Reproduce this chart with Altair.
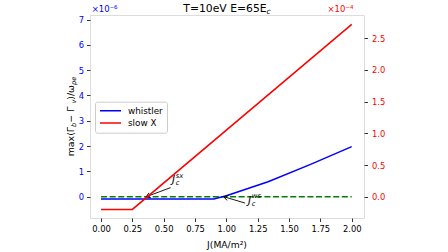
import math
import altair as alt
import pandas as pd

# ---------------- data ----------------
J_whistler = [0.0, 0.9, 1.0, 1.333, 1.667, 2.0]
gamma_whistler = [-0.09, -0.09, 0.04, 0.59, 1.27, 1.98]      # x 1e-6 (left axis)
J_slowx = [0.0, 0.25, 2.0]
gamma_slowx = [-0.2, -0.2, 2.72]                              # x 1e-4 (right axis)
J_zero = [0.0, 2.0]
gamma_zero = [0.0, 0.0]
series = ["whistler", "slow X"]
series_colors = ["#0000ff", "#ff0000"]
x_ticks = [0.0, 0.25, 0.5, 0.75, 1.0, 1.25, 1.5, 1.75, 2.0]
yl_ticks = [0, 1, 2, 3, 4, 5, 6, 7]
yr_ticks = [0.0, 0.5, 1.0, 1.5, 2.0, 2.5]

# annotations (left-axis units): J_c^sx and J_c^ws
ann_sup = ["sx", "ws"]
ann_head_J = [0.36, 0.98]
ann_head_G = [0.0, 0.0]
ann_tail_J = [0.555, 1.149]
ann_tail_G = [0.36, -0.25]
ann_text_J = [0.566, 1.173]
ann_text_G = [0.55, -0.27]

# ---------------- layout ----------------
W, H = 274, 203
X_DOM = [-0.088, 2.098]
YL_DOM = [-0.84, 7.18]
YR_DOM = [-0.336, 2.868]
FONT = "DejaVu Sans"


def px(j):
    return (j - X_DOM[0]) / (X_DOM[1] - X_DOM[0]) * W


def py(g):
    return (YL_DOM[1] - g) / (YL_DOM[1] - YL_DOM[0]) * H


ann_angle = []
for hj, hg, tj, tg in zip(ann_head_J, ann_head_G, ann_tail_J, ann_tail_G):
    a = math.degrees(math.atan2(py(hg) - py(tg), px(hj) - px(tj)))
    ann_angle.append(a % 360)

whistler = pd.DataFrame({"J": J_whistler, "G": gamma_whistler, "series": series[0]})
slowx = pd.DataFrame({"J": J_slowx, "G": gamma_slowx, "series": series[1]})
zero = pd.DataFrame({"J": J_zero, "G": gamma_zero})
ann = pd.DataFrame({
    "sup": ann_sup, "hJ": ann_head_J, "hG": ann_head_G, "tJ": ann_tail_J,
    "tG": ann_tail_G, "J": ann_text_J, "G": ann_text_G, "ang": ann_angle,
})
one = pd.DataFrame({"k": [0]})

xs = alt.Scale(domain=X_DOM, nice=False, zero=False)
yls = alt.Scale(domain=YL_DOM, nice=False, zero=False)
yrs = alt.Scale(domain=YR_DOM, nice=False, zero=False)

common_axis = dict(title=None, labelFontSize=8.4, labelFont=FONT, tickSize=3.5,
                   tickColor="black", tickWidth=0.8, domain=False, grid=False,
                   labelFlush=False, labelOverlap=False, labelBound=False)
x_axis = alt.Axis(values=x_ticks, format=".2f", labelColor="black", labelPadding=2.5, **common_axis)
yl_axis = alt.Axis(values=yl_ticks, format="d", orient="left", labelColor="#0000ff", labelPadding=3, **common_axis)
yr_axis = alt.Axis(values=yr_ticks, format=".1f", orient="right", labelColor="#ff0000", labelPadding=4, **common_axis)

legend = alt.Legend(orient="none", legendX=5, legendY=86.7, title=None, symbolType="stroke",
                    symbolSize=441, symbolStrokeWidth=1.5, labelFontSize=8.8, labelFont=FONT,
                    labelColor="black", labelOffset=6, padding=4, strokeColor="#cccccc",
                    fillColor="white", cornerRadius=2, clipHeight=10, rowPadding=2.3)
color = alt.Color("series:N", scale=alt.Scale(domain=series, range=series_colors), legend=legend)

X = alt.X("J:Q", scale=xs, axis=x_axis)

blue = alt.Chart(whistler).mark_line(strokeWidth=1.5).encode(
    x=X, y=alt.Y("G:Q", scale=yls, axis=yl_axis), color=color)
green = alt.Chart(zero).mark_line(strokeWidth=1.4, strokeDash=[6, 2.6], color="#008000").encode(
    x=X, y=alt.Y("G:Q", scale=yls, axis=yl_axis))
arrow_line = alt.Chart(ann).mark_rule(color="black", strokeWidth=0.9).encode(
    x=alt.X("hJ:Q", scale=xs, axis=x_axis), x2="tJ:Q",
    y=alt.Y("hG:Q", scale=yls, axis=yl_axis), y2="tG:Q")
arrow_head = alt.Chart(ann).mark_point(shape="M-1,-0.65L0,0L-1,0.65", filled=False, size=64,
                                       strokeWidth=0.9, color="black", opacity=1).encode(
    x=alt.X("hJ:Q", scale=xs, axis=x_axis), y=alt.Y("hG:Q", scale=yls, axis=yl_axis),
    angle=alt.Angle("ang:Q", scale=None))
ann_J = alt.Chart(ann).mark_text(text="J", fontSize=10.5, font=FONT, fontStyle="italic",
                                 align="left", baseline="alphabetic", color="black").encode(
    x=X, y=alt.Y("G:Q", scale=yls, axis=yl_axis))
ann_s = alt.Chart(ann).mark_text(fontSize=6.8, font=FONT, fontStyle="italic", align="left",
                                 baseline="alphabetic", color="black", dx=3.8, dy=-5.2).encode(
    x=X, y=alt.Y("G:Q", scale=yls, axis=yl_axis), text="sup:N")
ann_c = alt.Chart(ann).mark_text(text="c", fontSize=6.8, font=FONT, fontStyle="italic", align="left",
                                 baseline="alphabetic", color="black", dx=3.8, dy=2.0).encode(
    x=X, y=alt.Y("G:Q", scale=yls, axis=yl_axis))


def label(text, x, y, size, color="black", angle=0, style="normal", align="left"):
    kw = dict(text=text, fontSize=size, color=color, align=align, baseline="alphabetic",
              font=FONT, fontStyle=style)
    if angle:
        kw["angle"] = angle
    return alt.Chart(one).mark_text(**kw).encode(x=alt.value(x), y=alt.value(y))


texts = [
    # title
    label("T=10eV E=65E", 93.3, -3, 10.8),
    label("c", 176.6, -1.3, 7.6, style="italic"),
    # exponent offsets
    label("×10⁻⁶", 1.7, -3, 8.5, color="#0000ff"),
    label("×10⁻⁴", 263.3, -3, 8.5, color="#ff0000", align="right"),
    # x label
    label("J(MA/m²)", 137, 232.5, 9.2, align="center"),
    # y label (rotated, composed)
    label("max(Γ", -16.5, 141.3, 9.4, angle=270),
    label("b", -14.3, 111.9, 6.6, angle=270, style="italic"),
    label(" − Γ", -16.5, 107.7, 9.4, angle=270),
    label("v", -14.3, 88.6, 6.6, angle=270, style="italic"),
    label(")/ω", -16.5, 84.7, 9.4, angle=270),
    label("pe", -14.3, 70.0, 6.6, angle=270, style="italic"),
]

left = alt.layer(green, blue, arrow_line, arrow_head, ann_J, ann_s, ann_c, *texts)

red = alt.Chart(slowx).mark_line(strokeWidth=1.5).encode(
    x=X, y=alt.Y("G:Q", scale=yrs, axis=yr_axis), color=color)
right = alt.layer(red)

chart = alt.layer(left, right).resolve_scale(y="independent").properties(
    width=W, height=H,
    autosize=alt.AutoSizeParams(type="none"),
    padding={"left": 90, "top": 15, "right": 84, "bottom": 34},
    background="white",
).configure_view(stroke="black", strokeWidth=0.8).configure(font=FONT)

chart.save("out.html", embed_options={"renderer": "svg", "actions": False})
